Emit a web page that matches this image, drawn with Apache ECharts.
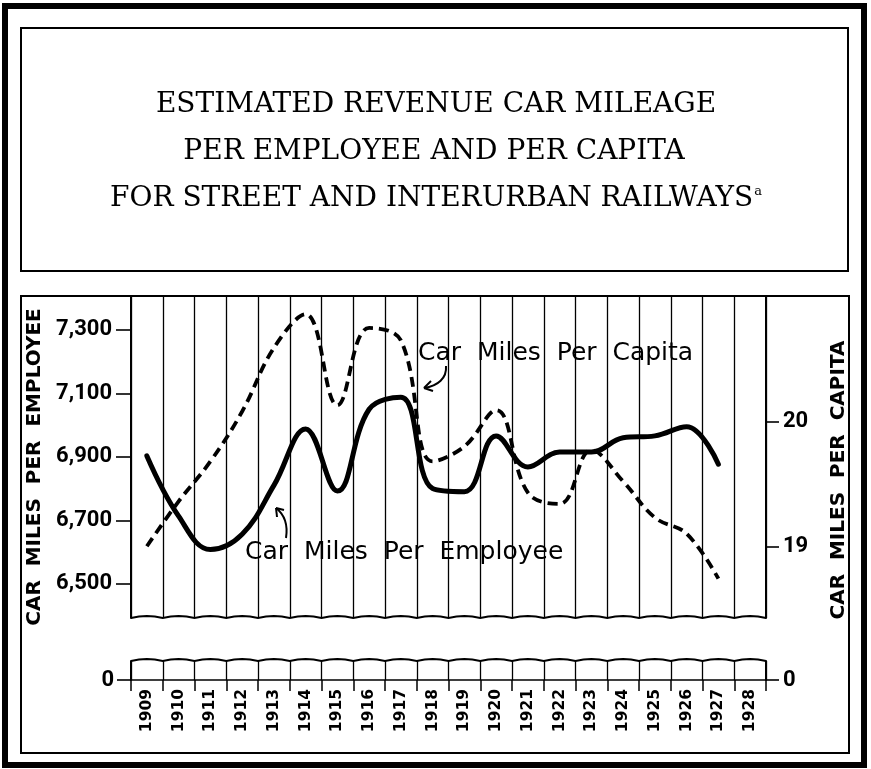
<!DOCTYPE html>
<html><head><meta charset="utf-8">
<script src="https://cdn.jsdelivr.net/npm/echarts@6/dist/echarts.min.js"></script>
<style>html,body{margin:0;padding:0;background:#fff}#c{width:871px;height:769px}</style>
</head><body><div id="c"></div>
<script>
// ---- data ----
const years = ['1909','1910','1911','1912','1913','1914','1915','1916','1917','1918','1919','1920','1921','1922','1923','1924','1925','1926','1927','1928'];
const milesPerEmployee = [6903, 6713, 6608, 6656, 6810, 6988, 6792, 7050, 7088, 6800, 6790, 6966, 6868, 6915, 6915, 6960, 6966, 6995, 6877, null];
const milesPerCapita = [19.00, 19.36, 19.68, 20.08, 20.59, 20.86, 20.13, 20.75, 20.65, 19.68, 19.80, 20.09, 19.43, 19.34, 19.77, 19.52, 19.23, 19.10, 18.74, null];
const employeeTicks = [6500, 6700, 6900, 7100, 7300];
const capitaTicks = [19, 20];
const zeroTicks = [0];
const titleLines = ['ESTIMATED REVENUE CAR MILEAGE', 'PER EMPLOYEE AND PER CAPITA', 'FOR STREET AND INTERURBAN RAILWAYS'];
const leftAxisName = 'CAR MILES PER EMPLOYEE';
const rightAxisName = 'CAR MILES PER CAPITA';
const employeeLabel = 'Car Miles Per Employee';
const capitaLabel = 'Car Miles Per Capita';

// ---- layout ----
const W = 871, H = 769;
const PL = 131, PR = 766, PT = 296, PB = 618;   // main plot
const ST = 661, SB = 680;                        // zero strip
const sans = '"DejaVu Sans", sans-serif';
const tickFont = 'Roboto, "DejaVu Sans", sans-serif';

const chart = echarts.init(document.getElementById('c'), null, {renderer: 'canvas'});

function wavy(y0, amp) {
  const pts = [];
  const n = years.length, cw = (PR - PL) / n;
  for (let i = 0; i <= n * 8; i++) {
    const x = PL + i * cw / 8;
    pts.push([x, y0 - amp * Math.sin(Math.PI * (i % 8) / 8)]);
  }
  return pts;
}

const fmt = v => v >= 1000 ? String(v).replace(/(\d)(\d{3})$/, '$1,$2') : String(v);
const ink = {fill: 'none', stroke: '#000', lineWidth: 2};
const tickLabel = {color: '#000', fontFamily: tickFont, fontWeight: 'bold', fontSize: 22};

chart.setOption({
  animation: false,
  backgroundColor: '#fff',
  grid: [
    {left: PL, right: W - PR, top: PT, height: PB - PT},
    {left: PL, right: W - PR, top: ST, height: SB - ST}
  ],
  xAxis: [
    {type: 'category', gridIndex: 0, data: years, boundaryGap: true,
     axisLine: {show: false}, axisTick: {show: false}, axisLabel: {show: false},
     splitLine: {show: true, interval: 0, lineStyle: {color: '#000', width: 1.3}}},
    {type: 'category', gridIndex: 1, data: years, boundaryGap: true,
     axisLine: {show: true, lineStyle: {color: '#000', width: 1.6}},
     axisTick: {show: true, interval: 0, length: 11, lineStyle: {color: '#000', width: 1.5}},
     axisLabel: {show: true, interval: 0, rotate: 90, margin: 9, color: '#000',
                 fontFamily: sans, fontWeight: 'bold', fontSize: 15.5},
     splitLine: {show: true, interval: 0, lineStyle: {color: '#000', width: 1.3}}}
  ],
  yAxis: [
    {type: 'value', gridIndex: 0, position: 'left', min: 6392, max: 7407,
     axisLine: {show: true, lineStyle: {color: '#000', width: 2}},
     axisTick: {show: true, customValues: employeeTicks, length: 15, lineStyle: {color: '#000', width: 1.6}},
     axisLabel: Object.assign({show: true, customValues: employeeTicks, formatter: fmt, margin: 19}, tickLabel),
     splitLine: {show: false}},
    {type: 'value', gridIndex: 0, position: 'right', min: 18.425, max: 21.006,
     axisLine: {show: true, lineStyle: {color: '#000', width: 2}},
     axisTick: {show: true, customValues: capitaTicks, length: 13, lineStyle: {color: '#000', width: 1.6}},
     axisLabel: Object.assign({show: true, customValues: capitaTicks, margin: 17}, tickLabel),
     splitLine: {show: false}},
    {type: 'value', gridIndex: 1, position: 'left', min: 0, max: 1,
     axisLine: {show: true, lineStyle: {color: '#000', width: 2}},
     axisTick: {show: true, customValues: zeroTicks, length: 14, lineStyle: {color: '#000', width: 1.6}},
     axisLabel: Object.assign({show: true, customValues: zeroTicks, margin: 17}, tickLabel),
     splitLine: {show: false}},
    {type: 'value', gridIndex: 1, position: 'right', min: 0, max: 1,
     axisLine: {show: true, lineStyle: {color: '#000', width: 2}},
     axisTick: {show: true, customValues: zeroTicks, length: 13, lineStyle: {color: '#000', width: 1.6}},
     axisLabel: Object.assign({show: true, customValues: zeroTicks, margin: 17}, tickLabel),
     splitLine: {show: false}}
  ],
  series: [
    {name: employeeLabel, type: 'line', xAxisIndex: 0, yAxisIndex: 0, data: milesPerEmployee,
     smooth: 0.4, symbol: 'none', lineStyle: {color: '#000', width: 5, cap: 'round'}, z: 5},
    {name: capitaLabel, type: 'line', xAxisIndex: 0, yAxisIndex: 1, data: milesPerCapita,
     smooth: 0.4, symbol: 'none', lineStyle: {color: '#000', width: 3.8, type: [10, 6]}, z: 4}
  ],
  graphic: [
    {type: 'rect', shape: {x: 5, y: 6, width: 859, height: 759}, style: {fill: 'none', stroke: '#000', lineWidth: 6}, silent: true},
    {type: 'rect', shape: {x: 21, y: 28, width: 827, height: 243}, style: ink, silent: true},
    {type: 'rect', shape: {x: 21, y: 296, width: 828, height: 457}, style: ink, silent: true},
    {type: 'polyline', shape: {points: wavy(PB, 2)}, style: ink, silent: true},
    {type: 'polyline', shape: {points: wavy(ST, 2)}, style: ink, silent: true},
    {type: 'text', x: 436, y: 105, style: {text: titleLines[0], font: '28px "DejaVu Serif", serif', fill: '#000', align: 'center', verticalAlign: 'middle'}},
    {type: 'text', x: 434, y: 152, style: {text: titleLines[1], font: '28px "DejaVu Serif", serif', fill: '#000', align: 'center', verticalAlign: 'middle'}},
    {type: 'text', x: 436, y: 199, style: {text: titleLines[2] + '{sup|a}', font: '28px "DejaVu Serif", serif', fill: '#000', align: 'center', verticalAlign: 'middle',
      rich: {sup: {fontSize: 13, fontFamily: '"DejaVu Serif", serif', verticalAlign: 'top', padding: [0, 0, 12, 1]}}}},
    {type: 'text', x: 35, y: 467, rotation: Math.PI / 2, style: {text: leftAxisName.replace(/ /g, '  '), font: 'bold 20px ' + sans, fill: '#000', align: 'center', verticalAlign: 'middle'}},
    {type: 'text', x: 839, y: 480, rotation: Math.PI / 2, style: {text: rightAxisName.replace(/ /g, '  '), font: 'bold 20px ' + sans, fill: '#000', align: 'center', verticalAlign: 'middle'}},
    {type: 'text', x: 418, y: 353, style: {text: capitaLabel.replace(/ /g, '  '), font: '25px ' + sans, fill: '#000', align: 'left', verticalAlign: 'middle'}},
    {type: 'text', x: 245, y: 552, style: {text: employeeLabel.replace(/ /g, '  '), font: '25px ' + sans, fill: '#000', align: 'left', verticalAlign: 'middle'}},
    {type: 'bezierCurve', shape: {x1: 446, y1: 366, cpx1: 447, cpy1: 378, cpx2: 438, cpy2: 386, x2: 424, y2: 388}, style: ink},
    {type: 'line', shape: {x1: 424, y1: 388, x2: 431, y2: 381}, style: ink},
    {type: 'line', shape: {x1: 424, y1: 388, x2: 433, y2: 391}, style: ink},
    {type: 'bezierCurve', shape: {x1: 286, y1: 538, cpx1: 288, cpy1: 525, cpx2: 285, cpy2: 515, x2: 276, y2: 508}, style: ink},
    {type: 'line', shape: {x1: 276, y1: 508, x2: 277, y2: 517}, style: ink},
    {type: 'line', shape: {x1: 276, y1: 508, x2: 284, y2: 510}, style: ink}
  ]
});
</script></body></html>
